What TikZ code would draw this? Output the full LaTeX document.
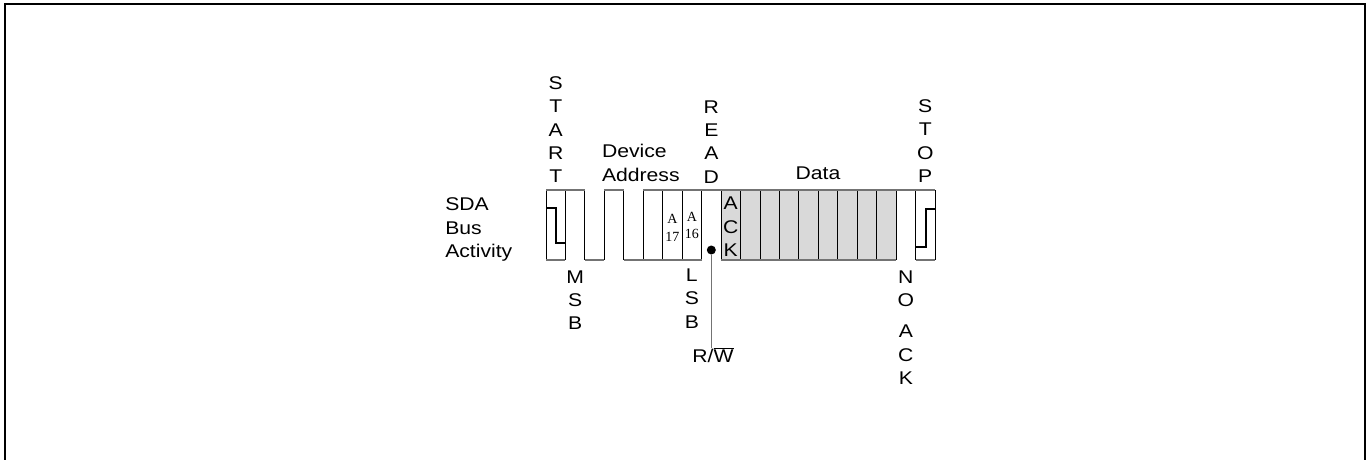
\documentclass[tikz,border=0pt]{standalone}
\usepackage{fontspec}
\setmainfont[FakeStretch=1.15]{Liberation Sans}
\newfontfamily\bitface{Liberation Serif}
\usetikzlibrary{positioning}
\definecolor{wavegray}{RGB}{115,115,115}
\definecolor{cellgray}{RGB}{217,217,217}
\tikzstyle{lbl} = [inner sep=0pt, font=\fontsize{18.4}{23.4}\selectfont]
\tikzstyle{vlbl} = [lbl, align=center, anchor=north]
\tikzstyle{abit} = [inner sep=0pt, align=center, anchor=north,
    font=\bitface\fontsize{14}{17.6}\selectfont]
\tikzstyle{wave} = [draw=wavegray, line width=1.3pt]
\tikzstyle{celledge} = [draw=black, line width=0.9pt]
\tikzstyle{stepline} = [draw=black, line width=2pt]
\def\xo{546}
\def\cw{19.45}

\begin{document}
\begin{tikzpicture}[x=1pt,y=-1pt,semithick]
  \useasboundingbox (0,0) rectangle (1368,460);
  \draw[line width=2pt] (5,460) |- (1365,4) -- (1365,460);

  \fill[cellgray] ({\xo+9*\cw},190) rectangle ({\xo+18*\cw},260);
  \foreach \i in {0,...,20}
    \draw[celledge] ({\xo+\i*\cw},190) -- ({\xo+\i*\cw},260);
  \foreach \a/\b in {0/2,3/4,5/20}
    \draw[wave] ({\xo+\a*\cw},190) -- ({\xo+\b*\cw},190);
  \foreach \a/\b in {0/1,2/3,4/8,9/18,19/20}
    \draw[wave] ({\xo+\a*\cw},260) -- ({\xo+\b*\cw},260);
  \draw[stepline] (\xo,208) -| ({\xo+0.5*\cw},243) -- ({\xo+\cw},243);
  \draw[stepline] ({\xo+19*\cw},246.7) -| ({\xo+19.55*\cw},209) -- ({\xo+20*\cw},209);

  \node[lbl, align=left, anchor=north west] (sda) at (445,197.5) {SDA\\Bus\\Activity};
  \node[vlbl] (start) at ({\xo+0.5*\cw},76.1)  {S\\T\\A\\R\\T};
  \node[lbl, align=left, anchor=north west] (devaddr) at (601.7,144.1) {Device\\Address};
  \node[vlbl] (read)  at ({\xo+8.5*\cw},100.1) {R\\E\\A\\D};
  \node[lbl, anchor=base] (data) at (818,179.3) {Data};
  \node[vlbl] (stop)  at ({\xo+19.5*\cw},99.1) {S\\T\\O\\P};

  \node[abit] (a17) at ({\xo+6.5*\cw},214)   {A\\17};
  \node[abit] (a16) at ({\xo+7.5*\cw},211.7) {A\\16};
  \node[vlbl] (ack) at ({\xo+9.5*\cw},196.7) {A\\C\\K};

  \node[vlbl] (msb)   at ({\xo+1.5*\cw},270.1)  {M\\S\\B};
  \node[vlbl] (lsb)   at ({\xo+7.5*\cw},268.4)  {L\\S\\B};
  \node[vlbl] (noack) at ({\xo+18.5*\cw},270.1) {N\\O\\[8pt]A\\C\\K};

  \node[circle, fill=black, inner sep=0pt, minimum size=9pt] (rwdot) at ({\xo+8.5*\cw},250) {};
  \node[lbl, anchor=base] (rw) at (713,362.5) {R/$\overline{\mbox{W}}$};
  \draw[wave] (rwdot) -- (rwdot |- rw.north);
\end{tikzpicture}
\end{document}
